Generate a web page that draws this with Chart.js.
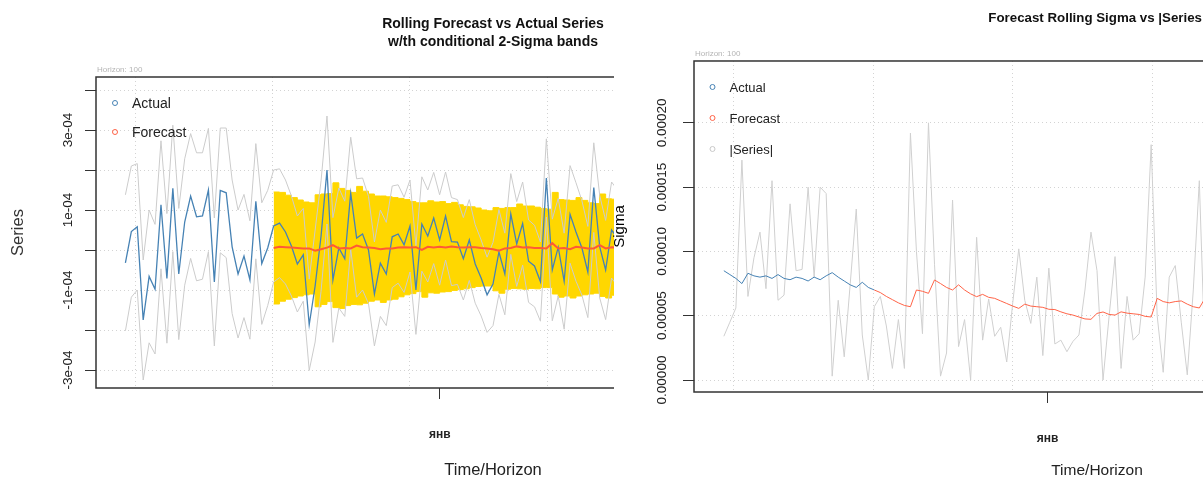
<!DOCTYPE html>
<html>
<head>
<meta charset="utf-8">
<title>Rolling Forecast vs Actual Series</title>
<script src="https://cdn.jsdelivr.net/npm/chart.js@4.4.1/dist/chart.umd.min.js"></script>
<style>
  html, body { margin: 0; padding: 0; background: #fff; width: 1203px; height: 477px; overflow: hidden; }
  .panel { position: absolute; top: 0; height: 477px; overflow: hidden; }
  #leftPanel { left: 0; width: 614px; }
  #rightPanel { left: 600px; width: 603px; }
  canvas { position: absolute; left: 0; top: 0; }
</style>
</head>
<body>
<div class="panel" id="leftPanel"><canvas id="forecastChart" width="986" height="477"></canvas></div>
<div class="panel" id="rightPanel"><canvas id="sigmaChart" width="994" height="477"></canvas></div>
<script>
'use strict';

// All values are in units of 1e-4. Index 0..24 = in-sample, 25.. = rolling forecast.
const SCALE = 1e-4;
const FORECAST_START = 25;

const actualSeries = [
    -0.32, 0.46, 0.58, -1.75, -0.66, -0.98, 1.13, -0.71, 1.54, -0.60,
    0.70, 1.35, 0.83, 0.85, 1.50, -0.80, 1.49, 1.43, 0.08, -0.60,
    -0.15, -0.75, 1.22, -0.34, 0.05, 0.60, 0.67, 0.45, 0.10, -0.35,
    -0.12, -1.87, -0.90, 0.35, 2.00, -0.75, 0.05, -0.22, 1.42, 0.30,
    0.40, 0.00, -1.10, -0.33, -0.60, 0.33, 0.40, 0.13, 0.60, -1.00,
    0.65, 0.35, 0.80, 0.25, 0.85, 0.21, 0.20, -0.22, 0.25, -0.35,
    -0.70, -1.12, -0.85, -0.05, -0.60, 0.90, 0.15, 0.66, -0.28, -0.40,
    -0.79, 1.80, -0.50, 0.07, -0.78, 0.89, 0.45, 0.05, -0.55, 1.56,
    0.08, -0.50, 0.50, 0.30
];

// grey lines of the left panel (series +/- 2 sigma)
const seriesUpper = [
    1.38, 2.10, 2.16, -0.25, 1.00, 0.64, 2.73, 0.91, 3.12, 1.04,
    2.28, 2.91, 2.43, 2.43, 3.04, 0.80, 3.05, 3.05, 1.75, 1.00,
    1.39, 0.73, 2.66, 1.18, 1.49, 2.00, 2.03, 1.75, 1.35, 0.85,
    1.04, -0.73, 0.50, 1.73, 3.35, 0.81, 1.55, 1.22, 2.82, 1.78,
    1.80, 1.34, 0.20, 1.00, 0.69, 1.60, 1.63, 1.32, 1.75, 0.11,
    1.83, 1.50, 1.94, 1.38, 1.95, 1.31, 1.26, 0.81, 1.26, 0.63,
    0.25, -0.18, 0.19, 1.01, 0.42, 1.91, 1.21, 1.70, 0.75, 0.62,
    0.20, 2.78, 0.77, 1.29, 0.42, 2.11, 1.68, 1.23, 0.59, 2.68,
    1.36, 0.74, 1.70, 1.50
];
const seriesLower = [
    -2.02, -1.18, -1.00, -3.25, -2.32, -2.60, -0.47, -2.33, -0.04, -2.24,
    -0.88, -0.21, -0.77, -0.73, -0.04, -2.40, -0.07, -0.19, -1.59, -2.20,
    -1.69, -2.23, -0.22, -1.86, -1.39, -0.80, -0.69, -0.85, -1.15, -1.55,
    -1.28, -3.01, -2.30, -1.03, 0.65, -2.31, -1.45, -1.66, 0.02, -1.18,
    -1.00, -1.34, -2.40, -1.66, -1.89, -0.94, -0.83, -1.06, -0.55, -2.11,
    -0.53, -0.80, -0.34, -0.88, -0.25, -0.89, -0.86, -1.25, -0.76, -1.33,
    -1.65, -2.06, -1.89, -1.11, -1.62, -0.11, -0.91, -0.38, -1.31, -1.42,
    -1.78, 0.82, -1.77, -1.15, -1.98, -0.33, -0.78, -1.13, -1.69, 0.44,
    -1.20, -1.74, -0.70, -0.90
];

// rolling forecast and its 2-sigma band
const forecastSeries = [
    0.05, 0.08, 0.07, 0.06, 0.05, 0.04, 0.04, -0.02, 0.02, 0.06,
    0.12, 0.04, 0.05, 0.04, 0.11, 0.07, 0.06, 0.05, 0.02, 0.04,
    0.04, 0.06, 0.07, 0.06, 0.07, 0.00, 0.08, 0.06, 0.08, 0.06,
    0.09, 0.07, 0.06, 0.07, 0.07, 0.05, 0.04, 0.02, -0.02, 0.04,
    0.05, 0.09, 0.06, 0.07, 0.05, 0.05, 0.04, 0.17, 0.04, 0.05,
    0.02, 0.08, 0.06, 0.04, 0.04, 0.12, 0.04, 0.07, 0.06
];
const bandUpper = [
    1.45, 1.44, 1.37, 1.31, 1.25, 1.20, 1.18, 1.38, 1.40, 1.41,
    1.68, 1.54, 1.49, 1.44, 1.59, 1.47, 1.40, 1.35, 1.35, 1.33,
    1.31, 1.29, 1.26, 1.21, 1.18, 1.18, 1.23, 1.20, 1.21, 1.16,
    1.19, 1.13, 1.09, 1.08, 1.05, 1.00, 0.98, 1.06, 1.04, 1.06,
    1.06, 1.15, 1.10, 1.10, 1.07, 1.04, 1.02, 1.44, 1.26, 1.25,
    1.24, 1.31, 1.24, 1.18, 1.16, 1.40, 1.28, 1.27, 1.26
];
const bandLower = [
    -1.35, -1.28, -1.23, -1.19, -1.15, -1.12, -1.10, -1.42, -1.36, -1.29,
    -1.44, -1.46, -1.39, -1.36, -1.37, -1.33, -1.28, -1.25, -1.31, -1.25,
    -1.23, -1.17, -1.12, -1.09, -1.04, -1.18, -1.07, -1.08, -1.05, -1.04,
    -1.01, -0.99, -0.97, -0.94, -0.91, -0.90, -0.90, -1.02, -1.08, -0.98,
    -0.96, -0.97, -0.98, -0.96, -0.97, -0.94, -0.94, -1.10, -1.18, -1.15,
    -1.20, -1.15, -1.12, -1.10, -1.08, -1.16, -1.20, -1.13, -1.14
];

// right panel: |series|, in-sample sigma, forecast sigma
const absSeries = [
    0.34, 0.45, 0.56, 1.71, 0.65, 0.95, 1.15, 0.71, 1.55, 0.62,
    0.66, 1.37, 0.85, 0.86, 1.50, 0.80, 1.50, 1.45, 0.03, 0.62,
    0.18, 0.75, 1.33, 0.35, 0.00, 0.57, 0.65, 0.42, 0.09, 0.47,
    0.09, 1.92, 1.00, 0.36, 2.00, 0.90, 0.03, 0.21, 1.40, 0.26,
    0.47, 0.00, 1.11, 0.31, 0.63, 0.34, 0.41, 0.14, 0.60, 1.02,
    0.62, 0.44, 0.80, 0.19, 0.87, 0.28, 0.31, 0.22, 0.30, 0.35,
    0.70, 1.15, 0.85, 0.00, 0.49, 0.96, 0.09, 0.65, 0.31, 0.36,
    0.80, 1.83, 0.50, 0.06, 0.80, 0.89, 0.45, 0.04, 0.70, 1.55,
    0.10
];
const sigmaInSample = [
    0.85, 0.82, 0.79, 0.75, 0.83, 0.81, 0.80, 0.81, 0.79, 0.82,
    0.79, 0.78, 0.80, 0.79, 0.77, 0.80, 0.78, 0.81, 0.835, 0.80,
    0.77, 0.74, 0.72, 0.76, 0.72, 0.70
];
const sigmaForecast = [
    0.70, 0.68, 0.65, 0.625, 0.60, 0.58, 0.57, 0.70, 0.69, 0.674,
    0.778, 0.75, 0.72, 0.70, 0.74, 0.70, 0.67, 0.648, 0.666, 0.643,
    0.635, 0.615, 0.595, 0.575, 0.557, 0.59, 0.575, 0.57, 0.565, 0.55,
    0.548, 0.53, 0.515, 0.505, 0.49, 0.475, 0.472, 0.518, 0.529, 0.51,
    0.505, 0.53, 0.52, 0.515, 0.51, 0.495, 0.49, 0.635, 0.61, 0.60,
    0.61, 0.615, 0.59, 0.57, 0.56, 0.64, 0.62, 0.60, 0.60
];

// axes
const timeGrid = [1.65, 24.8, 48.0, 71.2, 94.4, 117.6];
const monthLabel = 'янв';
const seriesTicks = [-3, -2, -1, 0, 1, 2, 3, 4];
const seriesTickLabels = ['-3e-04', '', '-1e-04', '', '1e-04', '', '3e-04', ''];
const sigmaTicks = [0, 0.5, 1, 1.5, 2];
const sigmaTickLabels = ['0.00000', '0.00005', '0.00010', '0.00015', '0.00020'];

Chart.defaults.font.family = '"Liberation Sans", Arial, Helvetica, sans-serif';
Chart.defaults.animation = false;
Chart.defaults.events = [];

const gridColor = '#d3d3d3';
const axisColor = '#333333';
const textColor = '#222222';
const clear = 'rgba(0,0,0,0)';

const toPoints = (values, start) => values.map((v, i) => ({ x: start + i, y: v * SCALE }));

// plot box, in-plot legend and the "Horizon" note, R style
const rFramePlugin = {
    id: 'rFrame',
    afterDraw(chart, args, opts) {
        const { ctx, chartArea: a } = chart;
        ctx.save();
        ctx.strokeStyle = axisColor;
        ctx.lineWidth = 1.5;
        ctx.strokeRect(a.left, a.top, a.right - a.left, a.bottom - a.top);

        ctx.fillStyle = '#b4b4b4';
        ctx.font = '8px "Liberation Sans", Arial, sans-serif';
        ctx.textBaseline = 'middle';
        ctx.fillText(opts.note, a.left + 1, a.top - 7);

        ctx.font = opts.legendFont;
        opts.legend.forEach((item, k) => {
            const y = a.top + opts.legendTop + k * opts.legendGap;
            ctx.beginPath();
            ctx.arc(a.left + opts.legendX, y, 2.5, 0, Math.PI * 2);
            ctx.strokeStyle = item.color;
            ctx.lineWidth = 1;
            ctx.stroke();
            ctx.fillStyle = textColor;
            ctx.fillText(item.label, a.left + opts.legendX + 17, y + 1);
        });
        ctx.restore();
    }
};

function timeAxis(monthAt, axisHeight, titleSize) {
    return {
        type: 'linear',
        min: -4.96,
        max: 128.96,
        afterBuildTicks: (s) => { s.ticks = timeGrid.concat([monthAt]).map(v => ({ value: v })); },
        afterFit: (s) => { s.height = axisHeight; },
        ticks: {
            autoSkip: false,
            maxRotation: 0,
            padding: 28,
            color: textColor,
            font: { size: 12, weight: 'bold' },
            callback: (v) => (v === monthAt ? monthLabel : '')
        },
        grid: {
            color: (c) => (c.tick && c.tick.value === monthAt ? clear : gridColor),
            tickColor: (c) => (c.tick && c.tick.value === monthAt ? axisColor : clear),
            tickLength: 11,
            lineWidth: 1
        },
        border: { display: false, dash: [1, 3] },
        title: {
            display: true,
            text: 'Time/Horizon',
            color: textColor,
            font: { size: titleSize, lineHeight: 0.85 },
            padding: { top: 0, bottom: 0 }
        }
    };
}

function valueAxis(cfg) {
    return {
        type: 'linear',
        min: cfg.min,
        max: cfg.max,
        afterBuildTicks: (s) => { s.ticks = cfg.ticks.map(v => ({ value: v * SCALE })); },
        afterFit: (s) => { s.width = cfg.width; },
        ticks: {
            autoSkip: false,
            minRotation: 90,
            maxRotation: 90,
            crossAlign: 'center',
            padding: cfg.padding,
            color: textColor,
            font: { size: 13.5 },
            callback: (v, i) => cfg.labels[i]
        },
        grid: { color: gridColor, tickColor: axisColor, tickLength: 11, lineWidth: 1 },
        border: { display: false, dash: [1, 3] },
        title: {
            display: true,
            text: cfg.title,
            color: cfg.titleColor,
            font: { size: cfg.titleSize },
            padding: { top: cfg.titlePad, bottom: 0 }
        }
    };
}

// Rolling forecast vs actual series
new Chart(document.getElementById('forecastChart'), {
    type: 'line',
    data: {
        datasets: [
            { label: 'Forecast', data: toPoints(forecastSeries, FORECAST_START), borderColor: '#ff5a36', borderWidth: 2, order: 0 },
            { label: 'Actual', data: toPoints(actualSeries, 0), borderColor: '#4682b4', borderWidth: 1.3, order: 1 },
            { label: 'upper', data: toPoints(seriesUpper, 0), borderColor: '#cccccc', borderWidth: 1, order: 2 },
            { label: 'lower', data: toPoints(seriesLower, 0), borderColor: '#cccccc', borderWidth: 1, order: 2 },
            { label: 'band+', data: toPoints(bandUpper, FORECAST_START), borderColor: '#ffd700', backgroundColor: '#ffd700', borderWidth: 1, stepped: true, fill: '+1', order: 3 },
            { label: 'band-', data: toPoints(bandLower, FORECAST_START), borderColor: '#ffd700', borderWidth: 1, stepped: true, order: 3 }
        ]
    },
    options: {
        responsive: false,
        layout: { padding: { left: 0, right: 96, top: 0, bottom: 0 } },
        elements: { point: { radius: 0 }, line: { tension: 0, fill: false } },
        plugins: {
            legend: { display: false },
            tooltip: { enabled: false },
            title: {
                display: true,
                fullSize: false,
                text: ['Rolling Forecast vs Actual Series', 'w/th conditional 2-Sigma bands'],
                color: '#111',
                font: { size: 14, weight: 'bold', lineHeight: 1.3 },
                padding: { top: 15, bottom: 25.6 }
            },
            rFrame: {
                note: 'Horizon: 100',
                legendFont: '14px "Liberation Sans", Arial, sans-serif',
                legendX: 19, legendTop: 26, legendGap: 29,
                legend: [{ label: 'Actual', color: '#4682b4' }, { label: 'Forecast', color: '#ff6347' }]
            }
        },
        scales: {
            x: timeAxis(53.05, 89, 16.5),
            y: valueAxis({
                min: -3.45e-4, max: 4.325e-4, ticks: seriesTicks, labels: seriesTickLabels,
                width: 96, padding: -2.4, title: 'Series', titleColor: '#333', titleSize: 16.5, titlePad: 9
            })
        }
    },
    plugins: [rFramePlugin]
});

// Forecast rolling sigma vs |series|
new Chart(document.getElementById('sigmaChart'), {
    type: 'line',
    data: {
        datasets: [
            { label: 'Forecast', data: toPoints(sigmaForecast, FORECAST_START), borderColor: '#ff6347', borderWidth: 1, order: 0 },
            { label: 'Actual', data: toPoints(sigmaInSample, 0), borderColor: '#4682b4', borderWidth: 1, order: 1 },
            { label: '|Series|', data: toPoints(absSeries, 0), borderColor: '#d0d0d0', borderWidth: 1, order: 2 }
        ]
    },
    options: {
        responsive: false,
        layout: { padding: { left: 0, right: 94, top: 0, bottom: 0 } },
        elements: { point: { radius: 0 }, line: { tension: 0, fill: false } },
        plugins: {
            legend: { display: false },
            tooltip: { enabled: false },
            title: {
                display: true,
                fullSize: false,
                text: 'Forecast Rolling Sigma vs |Series|',
                color: '#111',
                font: { size: 13.3, weight: 'bold', lineHeight: 1.3 },
                padding: { top: 9.5, bottom: 34.2 }
            },
            rFrame: {
                note: 'Horizon: 100',
                legendFont: '13px "Liberation Sans", Arial, sans-serif',
                legendX: 18.5, legendTop: 26, legendGap: 31,
                legend: [
                    { label: 'Actual', color: '#4682b4' },
                    { label: 'Forecast', color: '#ff6347' },
                    { label: '|Series|', color: '#c8c8c8' }
                ]
            }
        },
        scales: {
            x: timeAxis(53.8, 85, 15.5),
            y: valueAxis({
                min: -9.33e-6, max: 2.481e-4, ticks: sigmaTicks, labels: sigmaTickLabels,
                width: 94, padding: -3.4, title: 'Sigma', titleColor: '#000', titleSize: 15, titlePad: 11
            })
        }
    },
    plugins: [rFramePlugin]
});
</script>
</body>
</html>
